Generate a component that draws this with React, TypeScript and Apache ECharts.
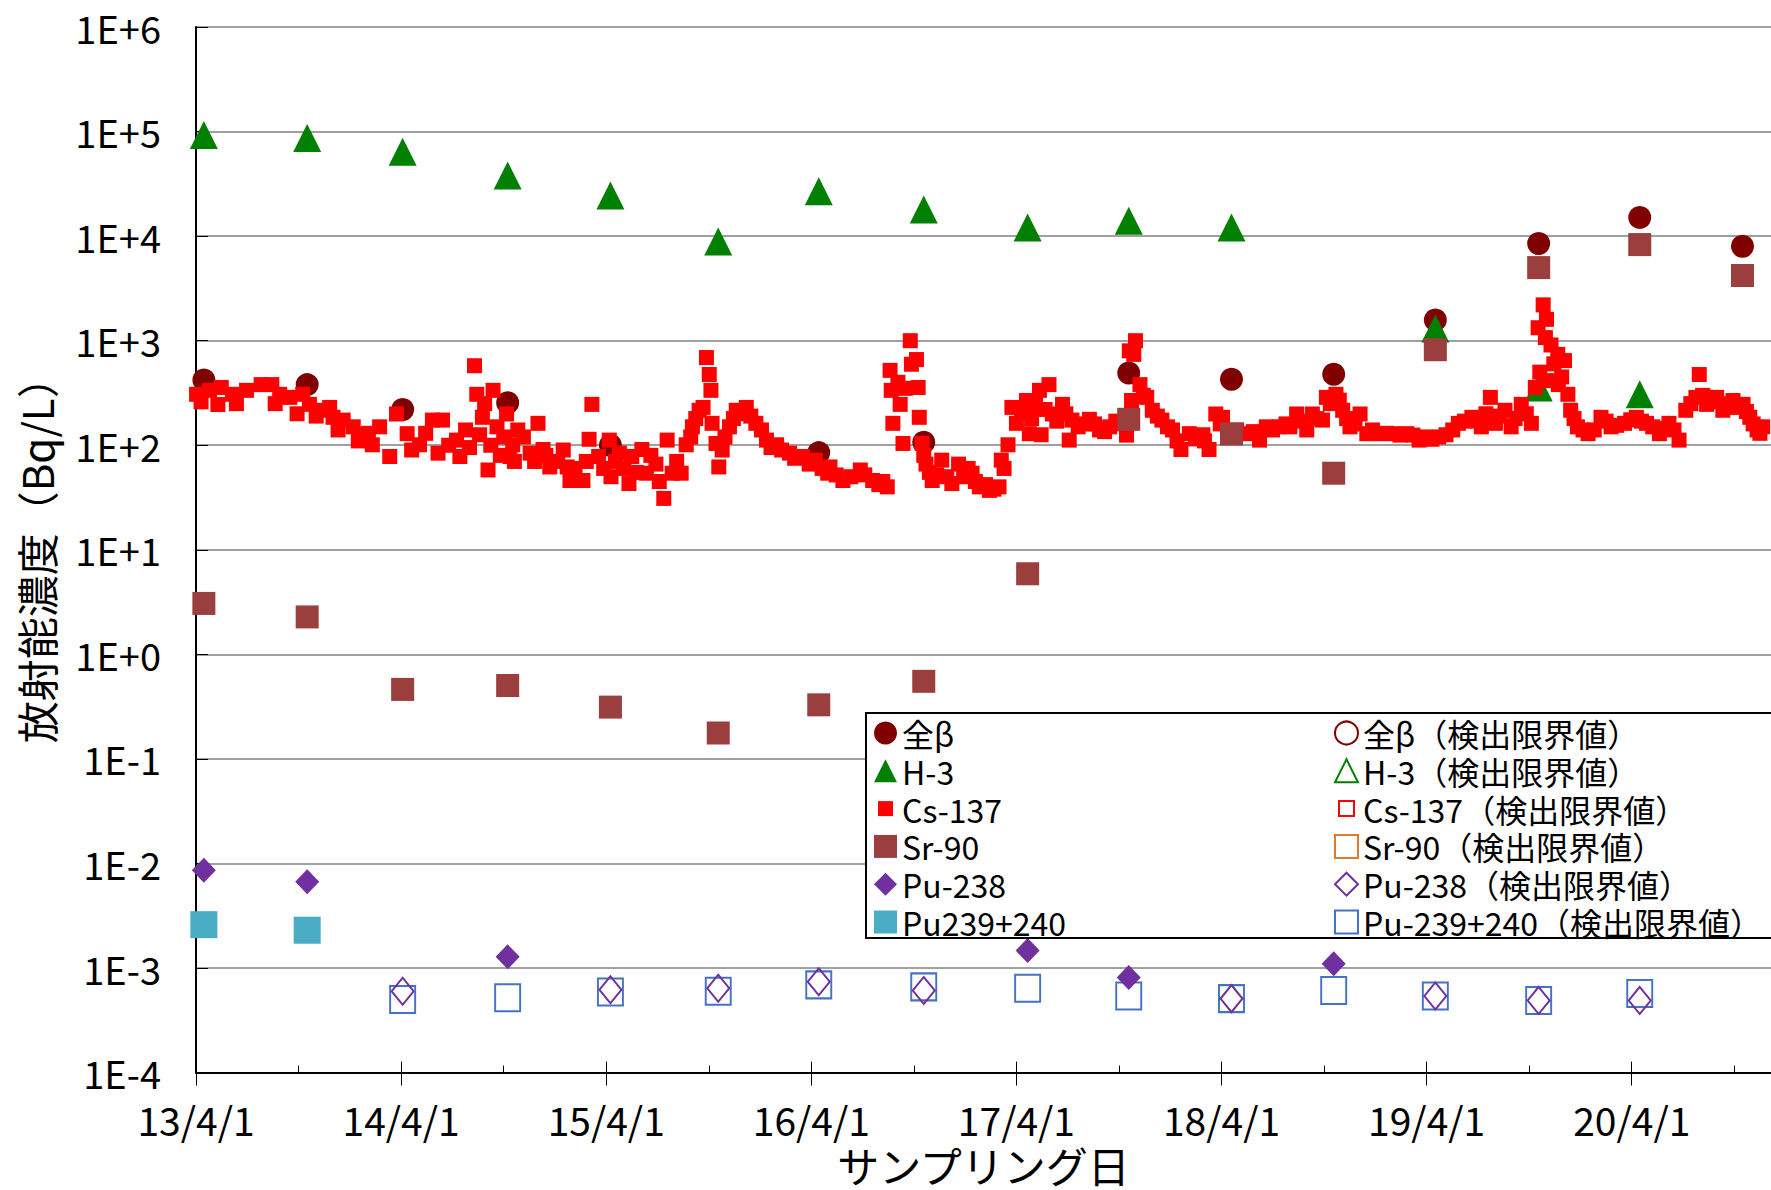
import { useEffect, useRef } from 'react';
import * as echarts from 'echarts';

const FONT = '"Noto Sans CJK JP", "Noto Sans", sans-serif';

// Half-yearly sampling dates
const sampleDates = ['2013-04-15', '2013-10-16', '2014-04-04', '2014-10-08', '2015-04-09', '2015-10-18', '2016-04-14', '2016-10-18', '2017-04-21', '2017-10-18', '2018-04-19', '2018-10-18', '2019-04-17', '2019-10-18', '2020-04-15', '2020-10-15'];
const grossBeta = [420, 380, 220, 255, 100, null, 85, 107, 230, 490, 428, 477, 1580, 8500, 15100, 8000];
const h3 = [92700, 86700, 64100, 37900, 24500, 8900, 26900, 18000, 12100, 14000, 12100, null, 1310, 357, 307, null];
const sr90 = [3.07, 2.28, 0.462, 0.504, 0.313, 0.177, 0.329, 0.552, 5.9, 177, 128, 54, 820, 5000, 8300, 4200];
const pu238 = [0.0086, 0.0067, null, 0.00128, null, null, null, null, 0.00147, 0.00081, null, 0.0011, null, null, null, null];
const pu239240 = [0.0026, 0.0023, null, null, null, null, null, null, null, null, null, null, null, null, null, null];
const pu238Limit = [null, null, 0.0006, null, 0.00062, 0.00064, 0.00074, 0.00061, null, null, 0.00051, null, 0.00054, 0.00049, 0.00049, null];
const pu239240Limit = [null, null, 0.0005, 0.00052, 0.00059, 0.0006, 0.00069, 0.00066, 0.00064, 0.00054, 0.00051, 0.00061, 0.00054, 0.00049, 0.00057, null];

// Cs-137 frequent sampling
const csDates = [
  '2013-04-02', '2013-04-25', '2013-05-16', '2013-06-05', '2013-06-30', '2013-07-26', '2013-08-14', '2013-08-28', '2013-09-15', '2013-10-08',
  '2013-10-20', '2013-11-13', '2013-12-01', '2013-12-19', '2014-01-06', '2014-01-24', '2014-02-09', '2014-02-22', '2014-03-12', '2014-03-24',
  '2014-04-12', '2014-05-04', '2014-05-27', '2014-06-06', '2014-06-14', '2014-07-09', '2014-07-15', '2014-08-10', '2014-08-14', '2014-08-19',
  '2014-08-24', '2014-09-03', '2014-09-12', '2014-09-19', '2014-10-06', '2014-10-12', '2014-10-17', '2014-10-26', '2014-11-17', '2014-12-01',
  '2014-12-10', '2014-12-22', '2015-01-22', '2015-01-27', '2015-02-19', '2015-03-02', '2015-03-07', '2015-03-19', '2015-04-07', '2015-04-10',
  '2015-04-25', '2015-05-12', '2015-05-17', '2015-06-04', '2015-06-12', '2015-06-29', '2015-07-13', '2015-07-19', '2015-07-28', '2015-08-13',
  '2015-08-22', '2015-09-02', '2015-09-14', '2015-09-21', '2015-09-27', '2015-10-02', '2015-10-05', '2015-10-07', '2015-10-14', '2015-10-19',
  '2015-11-07', '2015-11-19', '2015-12-07', '2015-12-24', '2016-01-12', '2016-01-30', '2016-02-22', '2016-03-16', '2016-04-08', '2016-04-30',
  '2016-05-04', '2016-05-27', '2016-06-27', '2016-07-19', '2016-08-14', '2016-08-19', '2016-08-21', '2016-08-24', '2016-09-06', '2016-09-11',
  '2016-09-24', '2016-09-26', '2016-10-05', '2016-10-08', '2016-10-10', '2016-10-15', '2016-10-22', '2016-11-02', '2016-11-19', '2016-12-07',
  '2016-12-19', '2017-01-12', '2017-01-25', '2017-02-12', '2017-03-01', '2017-03-05', '2017-03-17', '2017-03-24', '2017-04-01', '2017-04-19',
  '2017-04-24', '2017-05-12', '2017-05-15', '2017-05-29', '2017-06-04', '2017-06-22', '2017-07-04', '2017-07-09', '2017-08-09', '2017-08-27',
  '2017-09-14', '2017-10-14', '2017-10-19', '2017-10-23', '2017-10-27', '2017-10-30', '2017-11-07', '2017-11-19', '2017-11-29', '2017-12-16',
  '2018-01-04', '2018-01-19', '2018-02-03', '2018-02-27', '2018-03-10', '2018-03-22', '2018-04-03', '2018-04-20', '2018-05-15', '2018-06-08',
  '2018-06-20', '2018-07-13', '2018-08-01', '2018-08-13', '2018-08-31', '2018-09-10', '2018-09-28', '2018-10-05', '2018-10-22', '2018-11-03',
  '2018-11-16', '2018-12-04', '2018-12-16', '2019-01-08', '2019-02-01', '2019-02-25', '2019-03-19', '2019-04-11', '2019-05-06', '2019-05-28',
  '2019-06-21', '2019-07-08', '2019-07-24', '2019-08-02', '2019-08-19', '2019-08-30', '2019-09-17', '2019-10-05', '2019-10-12', '2019-10-17',
  '2019-10-26', '2019-10-30', '2019-11-05', '2019-11-09', '2019-11-21', '2019-11-22', '2019-12-03', '2019-12-09', '2019-12-14', '2019-12-26',
  '2020-01-14', '2020-02-06', '2020-02-24', '2020-03-19', '2020-04-09', '2020-04-27', '2020-05-20', '2020-06-06', '2020-06-24', '2020-07-06',
  '2020-07-24', '2020-07-30', '2020-08-12', '2020-08-30', '2020-09-10', '2020-09-28', '2020-10-16', '2020-10-28', '2020-11-10', '2020-11-20',
  // further samples
  '2013-04-10', '2013-05-10', '2013-06-12', '2013-08-20', '2013-09-28', '2013-11-01', '2013-11-25', '2013-12-10', '2014-01-15', '2014-02-02',
  '2014-04-20', '2014-05-15', '2014-06-25', '2014-07-25', '2014-08-01', '2014-08-28', '2014-09-08', '2014-09-25', '2014-10-01', '2014-10-20',
  '2014-11-05', '2014-11-25', '2014-12-15', '2015-01-05', '2015-01-15', '2015-02-05', '2015-02-25', '2015-03-28', '2015-04-18', '2015-05-03',
  '2015-05-25', '2015-06-20', '2015-07-05', '2015-08-05', '2015-08-30', '2015-09-08', '2015-10-25', '2015-10-30', '2015-11-14', '2015-11-28',
  '2015-12-15', '2016-01-03', '2016-01-20', '2016-02-08', '2016-03-02', '2016-03-28', '2016-04-20', '2016-05-15', '2016-06-10', '2016-07-05',
  '2016-07-30', '2016-08-06', '2016-09-02', '2016-09-15', '2016-10-18', '2016-10-28', '2016-11-10', '2016-11-28', '2016-12-28', '2017-01-05',
  '2017-01-18', '2017-02-05', '2017-02-20', '2017-03-10', '2017-04-10', '2017-04-28', '2017-05-05', '2017-05-22', '2017-06-12', '2017-06-28',
  '2017-07-20', '2017-08-01', '2017-08-18', '2017-09-05', '2017-09-25', '2017-10-05', '2017-11-13', '2017-12-08', '2017-12-26', '2018-01-12',
  '2018-02-14', '2018-03-02', '2018-03-30', '2018-04-28', '2018-05-28', '2018-07-01', '2018-07-25', '2018-08-22', '2018-09-18', '2018-10-12',
  '2018-10-28', '2018-11-10', '2018-11-25', '2018-12-26', '2019-01-20', '2019-02-13', '2019-03-08', '2019-03-30', '2019-04-23', '2019-05-18',
  '2019-06-08', '2019-07-01', '2019-07-16', '2019-08-10', '2019-09-06', '2019-09-26', '2019-10-20', '2019-11-01', '2019-11-14', '2019-11-28',
  '2019-12-20', '2020-01-05', '2020-01-25', '2020-02-15', '2020-03-05', '2020-03-30', '2020-04-18', '2020-05-08', '2020-05-30', '2020-06-15',
  '2020-07-15', '2020-08-05', '2020-08-20', '2020-09-18', '2020-10-06', '2020-10-22', '2020-11-03', '2020-11-15',
];
const csValues = [
  307, 335, 357, 307, 335, 380, 380, 307, 287, 307,
  246, 216, 185, 174, 150, 126, 101, 150, 78, 199,
  129, 101, 174, 84, 174, 112, 78, 576, 307, 126,
  185, 58, 335, 150, 199, 78, 101, 140, 84, 162,
  91, 62, 62, 46, 46, 114, 246, 78, 112, 50,
  84, 43, 78, 91, 54, 66, 31, 112, 54, 54,
  101, 150, 216, 230, 690, 475, 335, 162, 104, 62,
  150, 216, 230, 162, 112, 101, 84, 78, 72, 54,
  62, 46, 58, 46, 40, 520, 335, 162, 246, 104,
  1000, 595, 660, 357, 185, 104, 66, 46, 72, 43,
  66, 54, 40, 37, 40, 72, 101, 230, 162, 268,
  129, 335, 126, 380, 199, 246, 112, 174, 177, 140,
  150, 125, 800, 268, 740, 1000, 380, 287, 216, 174,
  140, 91, 129, 126, 91, 199, 185, 129, 129, 112,
  150, 150, 150, 199, 140, 199, 174, 287, 307, 216,
  150, 199, 129, 129, 129, 129, 112, 114, 126, 162,
  185, 150, 287, 162, 216, 150, 246, 162, 357, 1330,
  2200, 1070, 415, 910, 740, 380, 645, 307, 216, 150,
  129, 185, 150, 162, 185, 162, 129, 162, 112, 216,
  287, 475, 246, 287, 216, 268, 246, 185, 140, 150,
  // further samples
  260, 245, 250, 250, 200, 190, 230, 140, 110, 130,
  90, 130, 100, 140, 95, 250, 100, 80, 120, 70,
  120, 70, 80, 70, 90, 60, 70, 60, 70, 60,
  55, 80, 45, 70, 120, 180, 90, 120, 180, 200,
  190, 140, 95, 90, 75, 66, 60, 52, 50, 52,
  42, 45, 400, 350, 80, 55, 52, 50, 50, 60,
  45, 42, 38, 60, 200, 180, 250, 220, 170, 200,
  150, 160, 160, 135, 170, 160, 300, 190, 150, 110,
  115, 110, 160, 140, 135, 140, 160, 170, 180, 250,
  270, 180, 160, 140, 130, 125, 125, 120, 120, 140,
  170, 170, 200, 190, 180, 200, 500, 1600, 600, 450,
  180, 140, 140, 170, 155, 175, 170, 150, 145, 140,
  250, 300, 260, 250, 230, 210, 160, 130,
];

const legendLeft = ['全β', 'H-3', 'Cs-137', 'Sr-90', 'Pu-238', 'Pu239+240'];
const legendRight = ['全β（検出限界値）', 'H-3（検出限界値）', 'Cs-137（検出限界値）', 'Sr-90（検出限界値）', 'Pu-238（検出限界値）', 'Pu-239+240（検出限界値）'];

const X_START = '2013-04-01';
const YEAR_DAYS = 365.25;
const X_SPAN_YEARS = 7.679;

const DAY_MS = 86400000;
const toTs = (s: string) => {
  const [y, m, d] = s.split('-').map(Number);
  return Date.UTC(y, m - 1, d);
};
const dayOf = (s: string) => (toTs(s) - toTs(X_START)) / DAY_MS;
const pairs = (dates: string[], vals: (number | null)[]) =>
  dates.map((d, i) => (vals[i] == null ? null : [dayOf(d), vals[i]])).filter((p) => p !== null);

const COLORS = {
  beta: '#800000',
  h3: '#008000',
  cs: '#ff0000',
  sr: '#9a3e3e',
  pu238: '#7030a0',
  pu239: '#4bacc6',
  srLimit: '#e07a2e',
  pu239Limit: '#4472c4',
};

const SMALL_SQ = 'path://M0,0M23,23M4,4L19,4L19,19L4,19Z';

export default function App() {
  const ref = useRef<HTMLDivElement>(null);
  useEffect(() => {
    const chart = echarts.init(ref.current!, null, { renderer: 'svg' });
    const xMax = X_SPAN_YEARS * YEAR_DAYS;
    const tickAxisBase = {
      type: 'value',
      min: 0,
      max: xMax,
      position: 'bottom',
      axisLine: { show: false, onZero: false },
      axisLabel: { show: false },
      splitLine: { show: false },
    };
    const filled = (color: string) => ({ color, opacity: 1, borderWidth: 0 });
    const hollow = (color: string) => ({ color: 'transparent', opacity: 1, borderColor: color, borderWidth: 2 });
    const legendText = { fontSize: 32, lineHeight: 32, color: '#000', fontFamily: FONT };
    const option: any = {
      animation: false,
      backgroundColor: '#ffffff',
      textStyle: { fontFamily: FONT, color: '#000' },
      grid: { left: 196, right: 0, top: 27, bottom: 111, containLabel: false },
      xAxis: [
        {
          type: 'value',
          min: 0,
          max: xMax,
          interval: YEAR_DAYS,
          position: 'bottom',
          name: 'サンプリング日',
          nameLocation: 'middle',
          nameGap: 66,
          nameTextStyle: { fontSize: 42, lineHeight: 42, color: '#000', fontFamily: FONT },
          axisLine: { show: true, onZero: false, lineStyle: { color: '#000', width: 2 } },
          axisTick: { show: true, inside: false, length: 13, lineStyle: { color: '#000', width: 1 } },
          axisLabel: {
            fontSize: 39,
            lineHeight: 34,
            color: '#000',
            fontFamily: FONT,
            margin: 29,
            showMaxLabel: false,
            formatter: (v: number) => {
              const k = v / YEAR_DAYS;
              const r = Math.round(k);
              if (Math.abs(k - r) > 0.01) return '';
              return `${13 + r}/4/1`;
            },
          },
          splitLine: { show: false },
        },
        {
          ...tickAxisBase,
          interval: YEAR_DAYS / 2,
          axisTick: { show: true, inside: true, length: 7, lineStyle: { color: '#000', width: 1 } },
        },
        {
          ...tickAxisBase,
          interval: YEAR_DAYS,
          axisTick: { show: true, inside: true, length: 11, lineStyle: { color: '#000', width: 1 } },
        },
      ],
      yAxis: {
        type: 'log',
        logBase: 10,
        min: 1e-4,
        max: 1e6,
        splitNumber: 10,
        name: '放射能濃度（Bq/L）',
        nameLocation: 'middle',
        nameRotate: 90,
        nameGap: 140,
        nameTextStyle: { fontSize: 42, color: '#000', fontFamily: FONT },
        axisLine: { show: true, onZero: false, lineStyle: { color: '#000', width: 2 } },
        axisTick: { show: true, inside: true, length: 12, lineStyle: { color: '#000', width: 1 } },
        axisLabel: {
          fontSize: 38,
          color: '#000',
          fontFamily: FONT,
          margin: 35,
          formatter: (v: number) => {
            const e = Math.round(Math.log10(v));
            return `1E${e >= 0 ? '+' : '-'}${Math.abs(e)}`;
          },
        },
        splitLine: { show: true, lineStyle: { color: '#808080', width: 1.5 } },
      },
      graphic: [
        {
          type: 'rect',
          z: 3,
          shape: { x: 866, y: 713, width: 1000, height: 225 },
          style: { fill: '#ffffff', stroke: '#000000', lineWidth: 2 },
          silent: true,
        },
      ],
      legend: [
        {
          orient: 'vertical',
          left: 874,
          top: 717,
          padding: 0,
          itemWidth: 23,
          itemHeight: 23,
          itemGap: 5.8,
          selectedMode: false,
          textStyle: legendText,
          data: [
            { name: legendLeft[0], icon: 'circle', itemStyle: filled(COLORS.beta) },
            { name: legendLeft[1], icon: 'triangle', itemStyle: filled(COLORS.h3) },
            { name: legendLeft[2], icon: SMALL_SQ, itemStyle: filled(COLORS.cs) },
            { name: legendLeft[3], icon: 'rect', itemStyle: filled(COLORS.sr) },
            { name: legendLeft[4], icon: 'diamond', itemStyle: filled(COLORS.pu238) },
            { name: legendLeft[5], icon: 'rect', itemStyle: filled(COLORS.pu239) },
          ],
        },
        {
          orient: 'vertical',
          left: 1334,
          top: 717,
          padding: 0,
          itemWidth: 23,
          itemHeight: 23,
          itemGap: 5.8,
          selectedMode: false,
          textStyle: legendText,
          data: [
            { name: legendRight[0], icon: 'circle', itemStyle: hollow(COLORS.beta) },
            { name: legendRight[1], icon: 'triangle', itemStyle: hollow(COLORS.h3) },
            { name: legendRight[2], icon: SMALL_SQ, itemStyle: hollow(COLORS.cs) },
            { name: legendRight[3], icon: 'rect', itemStyle: hollow(COLORS.srLimit) },
            { name: legendRight[4], icon: 'diamond', itemStyle: hollow(COLORS.pu238) },
            { name: legendRight[5], icon: 'rect', itemStyle: hollow(COLORS.pu239Limit) },
          ],
        },
      ],
      series: [
        { name: legendLeft[0], type: 'scatter', symbol: 'circle', symbolSize: 23, itemStyle: filled(COLORS.beta), data: pairs(sampleDates, grossBeta) },
        { name: legendLeft[1], type: 'scatter', symbol: 'triangle', symbolSize: 28, itemStyle: filled(COLORS.h3), data: pairs(sampleDates, h3) },
        { name: legendLeft[2], type: 'scatter', symbol: 'rect', symbolSize: 15, itemStyle: filled(COLORS.cs), data: pairs(csDates, csValues) },
        { name: legendLeft[3], type: 'scatter', symbol: 'rect', symbolSize: 23, itemStyle: filled(COLORS.sr), data: pairs(sampleDates, sr90) },
        { name: legendRight[0], type: 'scatter', symbol: 'circle', symbolSize: 21, itemStyle: hollow(COLORS.beta), data: [] },
        { name: legendRight[1], type: 'scatter', symbol: 'triangle', symbolSize: 26, itemStyle: hollow(COLORS.h3), data: [] },
        { name: legendRight[2], type: 'scatter', symbol: 'rect', symbolSize: 13, itemStyle: hollow(COLORS.cs), data: [] },
        { name: legendRight[3], type: 'scatter', symbol: 'rect', symbolSize: 21, itemStyle: hollow(COLORS.srLimit), data: [] },
        { name: legendRight[5], type: 'scatter', symbol: 'rect', symbolSize: [25, 27], itemStyle: hollow(COLORS.pu239Limit), data: pairs(sampleDates, pu239240Limit) },
        { name: legendRight[4], type: 'scatter', symbol: 'diamond', symbolSize: [22, 27], itemStyle: hollow(COLORS.pu238), data: pairs(sampleDates, pu238Limit) },
        { name: legendLeft[4], type: 'scatter', symbol: 'diamond', symbolSize: [24, 25], itemStyle: filled(COLORS.pu238), data: pairs(sampleDates, pu238) },
        { name: legendLeft[5], type: 'scatter', symbol: 'rect', symbolSize: 27, itemStyle: filled(COLORS.pu239), data: pairs(sampleDates, pu239240) },
      ],
    };
    chart.setOption(option);
    return () => chart.dispose();
  }, []);
  return (
    <div
      ref={ref}
      style={{ position: 'fixed', left: 0, top: 0, width: 1771, height: 1190, background: '#fff' }}
    />
  );
}
